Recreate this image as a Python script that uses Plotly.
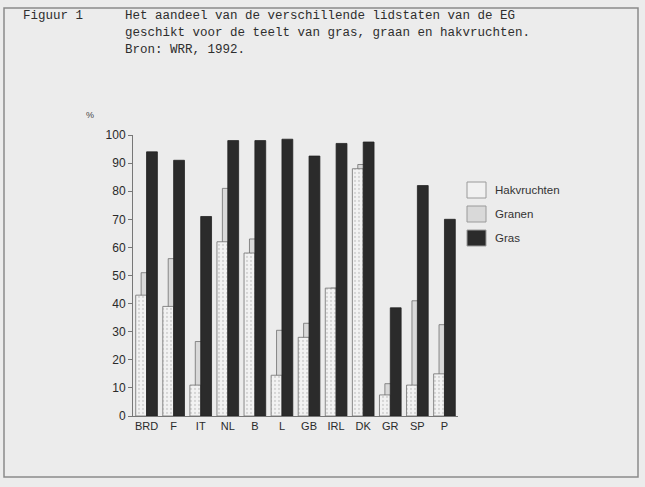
import plotly.graph_objects as go

landen = ["BRD", "F", "IT", "NL", "B", "L", "GB", "IRL", "DK", "GR", "SP", "P"]
hakvruchten = [43, 39, 11, 62, 58, 14.5, 28, 45.5, 88, 7.5, 11, 15]
granen = [51, 56, 26.5, 81, 63, 30.5, 33, 45.5, 89.5, 11.5, 41, 32.5]
gras = [94, 91, 71, 98, 98, 98.5, 92.5, 97, 97.5, 38.5, 82, 70]
y_ticks = [0, 10, 20, 30, 40, 50, 60, 70, 80, 90, 100]

W, H = 645, 487
L, R, T, B = 133, 458, 135, 416

def px(x):
    return (x - L) / (R - L)

def py(y):
    return (B - y) / (B - T)

fig = go.Figure()
fig.add_trace(go.Bar(
    name="Granen", x=landen, y=granen, width=0.4, offset=-0.2,
    marker=dict(color="#d9d9d9", line=dict(color="#6f6f6f", width=0.8)),
))
fig.add_trace(go.Bar(
    name="Hakvruchten", x=landen, y=hakvruchten, width=0.4, offset=-0.4,
    marker=dict(color="#f1f1f1", line=dict(color="#6f6f6f", width=0.8),
                pattern=dict(shape=".", fgcolor="#b8b8b8", bgcolor="#f2f2f2",
                             size=4, solidity=0.25)),
))
fig.add_trace(go.Bar(
    name="Gras", x=landen, y=gras, width=0.4, offset=0.0,
    marker=dict(color="#2b2b2b", line=dict(color="#222222", width=0.8)),
))

shapes = []
annotations = []

# frame
shapes.append(dict(type="rect", xref="paper", yref="paper",
                   x0=px(4), x1=px(638), y0=py(477), y1=py(8),
                   line=dict(color="#8a8a8a", width=1.5), layer="below"))

# legend (drawn manually)
legend_items = [("Hakvruchten", "#f1f1f1"), ("Granen", "#d9d9d9"), ("Gras", "#2b2b2b")]
for i, (name, col) in enumerate(legend_items):
    yc = 190 + i * 24
    shapes.append(dict(type="rect", xref="paper", yref="paper",
                       x0=px(467), x1=px(486), y0=py(yc + 8), y1=py(yc - 8),
                       fillcolor=col, line=dict(color="#9a9a9a", width=1)))
    annotations.append(dict(text=name, xref="paper", yref="paper",
                            x=px(493), y=py(yc), xanchor="left", yanchor="middle",
                            showarrow=False,
                            font=dict(family="Liberation Sans", size=11.5, color="#333333")))

mono = dict(family="Liberation Mono", size=12.5, color="#2e2e2e")
annotations.append(dict(text="Figuur 1", xref="paper", yref="paper",
                        x=px(21), y=py(16), xanchor="left", yanchor="middle",
                        showarrow=False, font=mono))
header = ["Het aandeel van de verschillende lidstaten van de EG",
          "geschikt voor de teelt van gras, graan en hakvruchten.",
          "Bron: WRR, 1992."]
for i, line in enumerate(header):
    annotations.append(dict(text=line, xref="paper", yref="paper",
                            x=px(123), y=py(16 + i * 17), xanchor="left", yanchor="middle",
                            showarrow=False, font=mono))

annotations.append(dict(text="%", xref="paper", yref="paper",
                        x=px(90), y=py(115), xanchor="center", yanchor="middle",
                        showarrow=False,
                        font=dict(family="Liberation Sans", size=9, color="#444444")))

fig.update_layout(
    width=W, height=H,
    margin=dict(l=L, r=W - R, t=T, b=H - B, pad=0),
    paper_bgcolor="#ececec", plot_bgcolor="#ececec",
    barmode="overlay", showlegend=False,
    shapes=shapes, annotations=annotations,
    font=dict(family="Liberation Sans", color="#222222"),
)
fig.update_xaxes(range=[-0.5, 11.5], showline=True, linecolor="#777777", linewidth=1,
                 ticks="", showgrid=False, zeroline=False,
                 tickfont=dict(family="Liberation Sans", size=11, color="#2a2a2a"))
fig.update_yaxes(range=[0, 100], tickvals=y_ticks, showline=True, linecolor="#777777",
                 linewidth=1, ticks="outside", ticklen=4, tickcolor="#777777",
                 showgrid=False, zeroline=False,
                 tickfont=dict(family="Liberation Sans", size=12, color="#2a2a2a"))

fig.write_html("out.html",
               config={"displayModeBar": False},
               post_script="document.body.style.margin='0';"
                           "document.body.style.background='#ececec';")
